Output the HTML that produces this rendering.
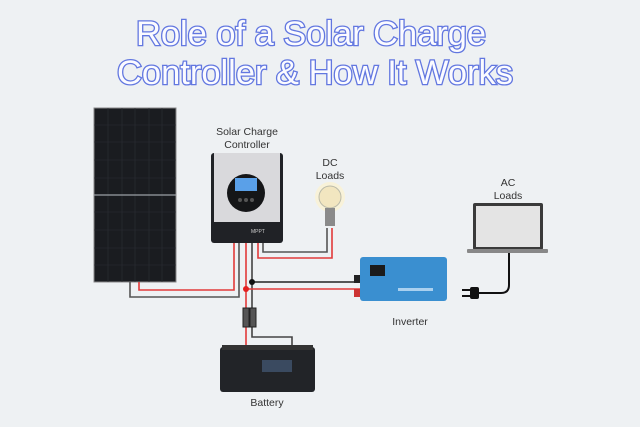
<!DOCTYPE html>
<html><head><meta charset="utf-8"><style>
html,body{margin:0;padding:0;background:#eef1f3;}
svg{display:block;font-family:"Liberation Sans",sans-serif;}
</style></head><body>
<svg width="640" height="427" viewBox="0 0 640 427" xmlns="http://www.w3.org/2000/svg">
<rect width="640" height="427" fill="#eef1f3"/>
<g font-size="34" text-anchor="middle" fill="#fbfbff" stroke="#6277e0" stroke-width="2.6" paint-order="stroke">
<text x="311" y="45" textLength="350" lengthAdjust="spacingAndGlyphs">Role of a Solar Charge</text>
<text x="315" y="84" textLength="396" lengthAdjust="spacingAndGlyphs">Controller &amp; How It Works</text>
</g>
<!-- panel -->
<rect x="94" y="108" width="82" height="174" fill="#1a1c20" stroke="#888" stroke-width="1"/>
<g stroke="#2c2f35" stroke-width="0.6">
<line x1="108" y1="108" x2="108" y2="282"/><line x1="122" y1="108" x2="122" y2="282"/><line x1="135" y1="108" x2="135" y2="282"/><line x1="149" y1="108" x2="149" y2="282"/><line x1="162" y1="108" x2="162" y2="282"/>
<line x1="94" y1="125" x2="176" y2="125"/><line x1="94" y1="142" x2="176" y2="142"/><line x1="94" y1="160" x2="176" y2="160"/><line x1="94" y1="178" x2="176" y2="178"/><line x1="94" y1="212" x2="176" y2="212"/><line x1="94" y1="230" x2="176" y2="230"/><line x1="94" y1="248" x2="176" y2="248"/><line x1="94" y1="265" x2="176" y2="265"/>
</g>
<line x1="94" y1="195" x2="176" y2="195" stroke="#9a9ea5" stroke-width="1.2"/>
<!-- wires -->
<g fill="none" stroke-width="1.6">
<polyline points="130,282 130,297 239,297 239,243" stroke="#555"/>
<polyline points="139,282 139,290 234,290 234,243" stroke="#e23a3a"/>
<polyline points="263,243 263,252 327,252 327,228" stroke="#555"/>
<polyline points="258,243 258,258 332,258 332,228" stroke="#e23a3a"/>
<polyline points="246,243 246,345" stroke="#e23a3a"/>
<polyline points="252,243 252,337 292,337 292,345" stroke="#444"/>
<line x1="252" y1="282" x2="360" y2="282" stroke="#222"/>
<line x1="246" y1="289" x2="360" y2="289" stroke="#e23a3a"/>
</g>
<circle cx="252" cy="282" r="3" fill="#111"/>
<circle cx="246" cy="289" r="3" fill="#e32020"/>
<rect x="243" y="308" width="6" height="19" fill="#555" stroke="#222"/>
<rect x="250" y="308" width="6" height="19" fill="#555" stroke="#222"/>
<!-- controller -->
<rect x="211" y="153" width="72" height="90" rx="3" fill="#202226"/>
<rect x="214" y="153" width="66" height="69" fill="#d9d9dc"/>
<circle cx="246" cy="193" r="19" fill="#151618"/>
<rect x="235" y="178" width="22" height="13" fill="#5aa0e8"/>
<circle cx="240" cy="200" r="2" fill="#555"/><circle cx="246" cy="200" r="2" fill="#555"/><circle cx="252" cy="200" r="2" fill="#555"/>
<text x="251" y="233" font-size="5" fill="#ccc">MPPT</text>
<g font-size="10.5" fill="#333" text-anchor="middle">
<text x="247" y="135">Solar Charge</text><text x="247" y="148">Controller</text>
<text x="330" y="166">DC</text><text x="330" y="179">Loads</text>
<text x="508" y="186">AC</text><text x="508" y="199">Loads</text>
<text x="410" y="325">Inverter</text>
<text x="267" y="406">Battery</text>
</g>
<!-- bulb -->
<circle cx="330" cy="197" r="15" fill="#fff3c8" opacity="0.6"/>
<circle cx="330" cy="197" r="11" fill="#f2e6c0" stroke="#bba" stroke-width="1"/>
<rect x="325" y="208" width="10" height="18" fill="#8a8a8a"/>
<!-- battery -->
<rect x="220" y="347" width="95" height="45" rx="3" fill="#222428"/>
<rect x="222" y="345" width="91" height="5" fill="#333"/>
<rect x="262" y="360" width="30" height="12" fill="#3a4a60"/>
<!-- inverter -->
<rect x="360" y="257" width="87" height="44" rx="3" fill="#3a8fd0"/>
<rect x="370" y="265" width="15" height="11" fill="#1b1b1b"/>
<rect x="398" y="288" width="35" height="3" fill="#a9d0ef"/>
<rect x="354" y="275" width="6" height="8" fill="#222"/><rect x="354" y="289" width="6" height="8" fill="#c33"/>
<!-- laptop -->
<rect x="473" y="203" width="70" height="47" rx="2" fill="#3a3a3a"/>
<rect x="476" y="206" width="64" height="41" fill="#e4e4e4"/>
<rect x="467" y="249" width="81" height="4" rx="1" fill="#888"/>
<path d="M509 253 L509 285 Q509 293 501 293 L478 293" fill="none" stroke="#111" stroke-width="2"/>
<rect x="470" y="287" width="9" height="12" rx="2" fill="#111"/>
<rect x="462" y="289" width="8" height="2" fill="#111"/><rect x="462" y="295" width="8" height="2" fill="#111"/>
</svg>
</body></html>
